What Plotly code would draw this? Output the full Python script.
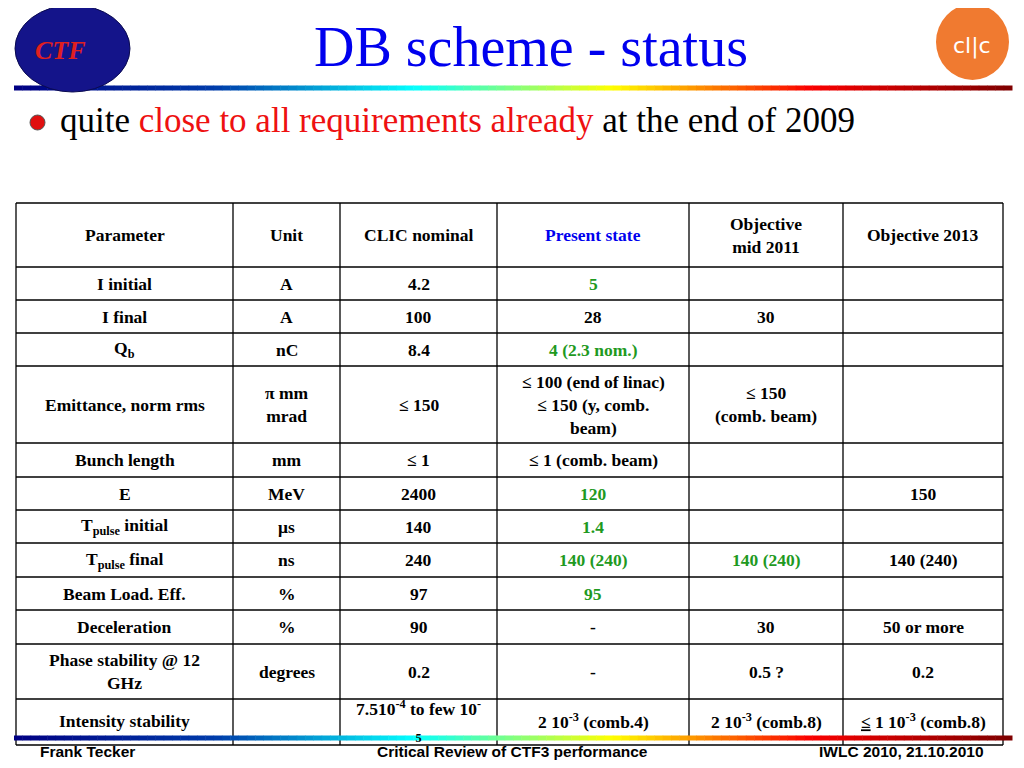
import plotly.graph_objects as go
import plotly.colors as pc

# table content
header = ["Parameter", "Unit", "CLIC nominal", "Present state", "Objective<br>mid 2011", "Objective 2013"]
params = ["I initial", "I final", "Q<sub>b</sub>", "Emittance, norm rms", "Bunch length", "E",
          "T<sub>pulse</sub> initial", "T<sub>pulse</sub> final", "Beam Load. Eff.", "Deceleration",
          "Phase stability @ 12<br>GHz", "Intensity stability"]
units = ["A", "A", "nC", "π mm<br>mrad", "mm", "MeV", "μs", "ns", "%", "%", "degrees", ""]
clic_nominal = ["4.2", "100", "8.4", "≤ 150", "≤ 1", "2400", "140", "240", "97", "90", "0.2",
                "7.510<sup>-4</sup> to few 10<sup>-</sup><br><sub>5</sub>"]
present = ["5", "28", "4 (2.3 nom.)", "≤ 100 (end of linac)<br>≤ 150 (y, comb.<br>beam)", "≤ 1 (comb. beam)",
           "120", "1.4", "140 (240)", "95", "-", "-", "2 10<sup>-3</sup> (comb.4)"]
present_green = [True, False, True, False, False, True, True, True, True, False, False, False]
obj2011 = ["", "30", "", "≤ 150<br>(comb. beam)", "", "", "", "140 (240)", "", "30", "0.5 ?",
           "2 10<sup>-3</sup> (comb.8)"]
obj2011_green = [False] * 7 + [True] + [False] * 4
obj2013 = ["", "", "", "", "", "150", "", "140 (240)", "", "50 or more", "0.2",
           "<u>≤</u> 1 10<sup>-3</sup> (comb.8)"]

col_x = [16, 233, 340, 497, 689, 843, 1003]
row_y = [203, 267, 300, 333, 366, 443, 477, 510, 543, 577, 610, 644, 699, 745]

fig = go.Figure()
shapes = []
ann = []
GREEN = "#1f9a1f"
FONT = "Liberation Serif"

def cell(text, c, r, color="black"):
    xm = (col_x[c] + col_x[c + 1]) / 2
    ym = (row_y[r] + row_y[r + 1]) / 2
    if r == 12:
        ym = 721
    ann.append(dict(x=xm, y=ym, text="<b>" + text + "</b>", showarrow=False,
                    font=dict(family=FONT, size=17.5, color=color)))

for c, h in enumerate(header):
    cell(h, c, 0, "#0000ee" if c == 3 else "black")
for i in range(len(params)):
    r = i + 1
    cell(params[i], 0, r)
    cell(units[i], 1, r)
    cell(clic_nominal[i], 2, r)
    cell(present[i], 3, r, GREEN if present_green[i] else "black")
    cell(obj2011[i], 4, r, GREEN if obj2011_green[i] else "black")
    cell(obj2013[i], 5, r)

for x in col_x:
    shapes.append(dict(type="line", x0=x, x1=x, y0=row_y[0], y1=row_y[-1], line=dict(color="black", width=1.3)))
for y in row_y:
    shapes.append(dict(type="line", x0=col_x[0], x1=col_x[-1], y0=y, y1=y, line=dict(color="black", width=1.3)))

# rainbow rules
n = 120
for y0 in [88, 738]:
    for k in range(n):
        x0 = 14 + k * (1012 - 14) / n
        col = pc.sample_colorscale("Jet", k / (n - 1))[0]
        shapes.append(dict(type="rect", x0=x0, x1=x0 + (1012 - 14) / n + 0.5, y0=y0 - 2.5, y1=y0 + 2.5,
                           line=dict(width=0), fillcolor=col))

# logos
shapes.append(dict(type="circle", x0=15, x1=130, y0=5, y1=92, fillcolor="#14148a", line=dict(color="#0a0a50", width=1)))
ann.append(dict(x=60, y=50, text="<b><i>CTF</i></b>", showarrow=False, font=dict(family=FONT, size=26, color="#e02020")))
shapes.append(dict(type="circle", x0=936, x1=1009, y0=4, y1=80, fillcolor="#f07a30", line=dict(width=0)))
ann.append(dict(x=972, y=46, text="cl|c", showarrow=False, font=dict(family="DejaVu Sans", size=22, color="white")))
shapes.append(dict(type="circle", x0=30, x1=45, y0=115, y1=130, fillcolor="#e01010", line=dict(color="#555", width=1)))

ann.append(dict(x=531, y=47, text="DB scheme - status", showarrow=False,
                font=dict(family=FONT, size=56, color="#0000ee")))
ann.append(dict(x=58, y=120, xanchor="left",
                text="quite <span style='color:#ee1111'>close to all requirements already</span> at the end of 2009",
                showarrow=False, font=dict(family=FONT, size=35, color="black")))
for x, t, xa in [(38, "Frank Tecker", "left"), (512, "Critical Review of CTF3 performance", "center"),
                 (986, "IWLC 2010, 21.10.2010", "right")]:
    ann.append(dict(x=x, y=751, text="<b>" + t + "</b>", xanchor=xa, showarrow=False,
                    font=dict(family="Liberation Sans", size=15.5, color="black")))

# page body has an 8px margin, shift the axes to compensate
fig.update_layout(width=1024, height=768, margin=dict(l=0, r=0, t=0, b=0),
                  plot_bgcolor="white", paper_bgcolor="white", shapes=shapes, annotations=ann,
                  xaxis=dict(range=[8, 1032], visible=False, fixedrange=True),
                  yaxis=dict(range=[776, 8], visible=False, fixedrange=True), showlegend=False)
fig.write_html("out.html")
